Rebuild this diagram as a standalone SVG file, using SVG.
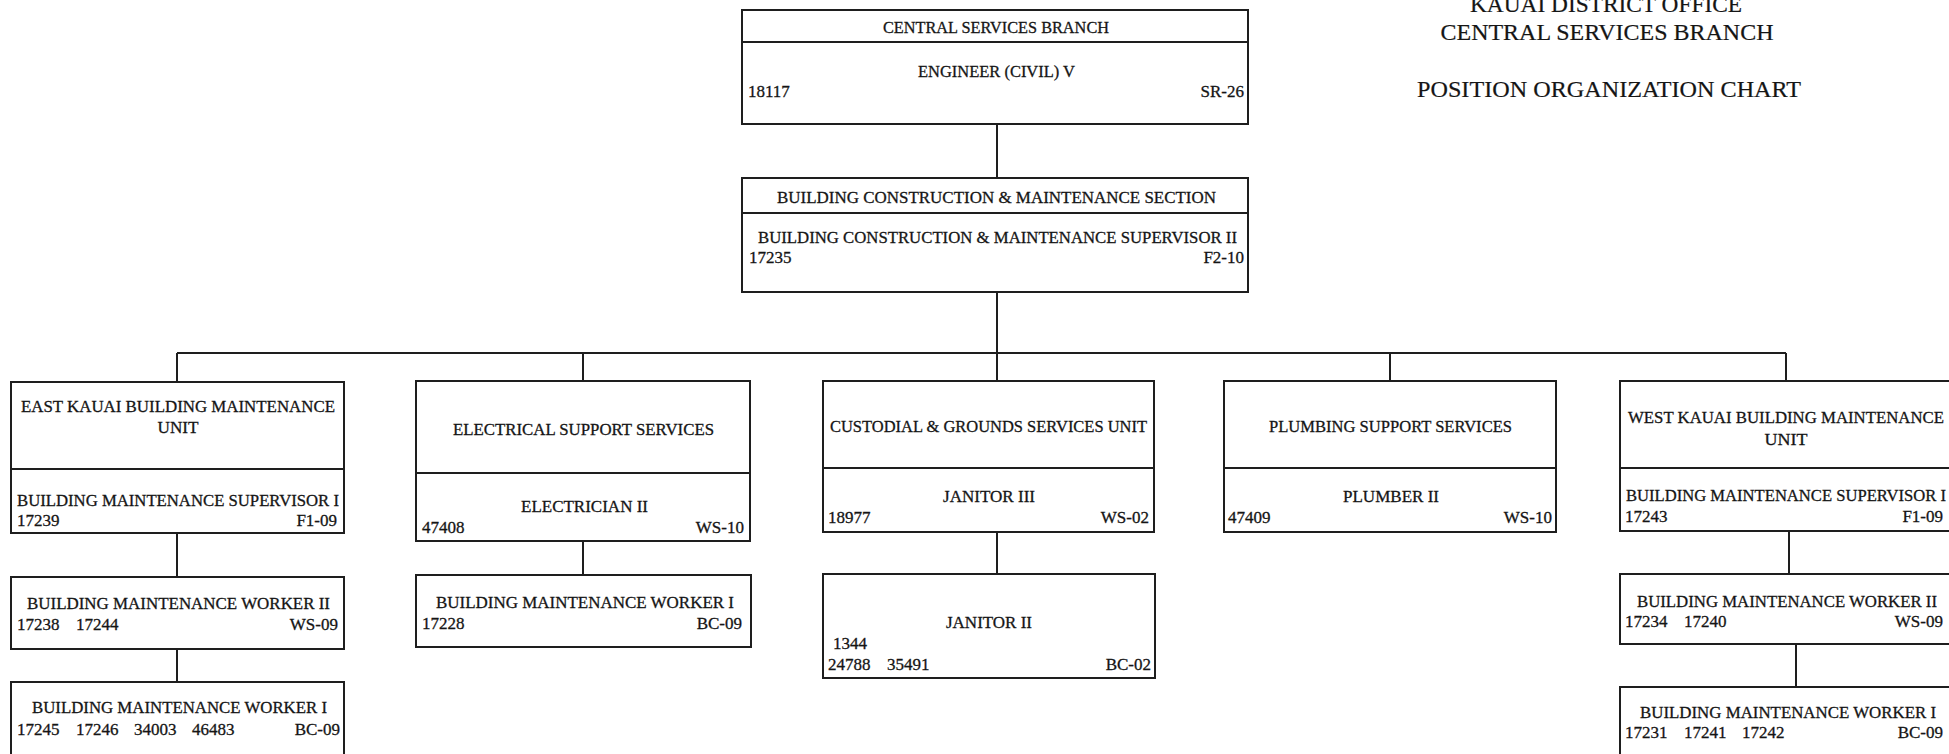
<svg xmlns="http://www.w3.org/2000/svg" width="1949" height="754" viewBox="0 0 1949 754">
<style>
.bx{fill:none;stroke:#1e1e1e;stroke-width:2}
.ln{fill:none;stroke:#1e1e1e;stroke-width:2}
.t{font-family:"Liberation Serif","Times New Roman",serif;font-size:17px;fill:#151515;stroke:#151515;stroke-width:0.3}
.c{text-anchor:middle}
.r{text-anchor:end}
.h{font-size:23.5px;stroke-width:0.2}
</style>
<rect x="0" y="0" width="1949" height="754" fill="#ffffff"/>
<g id="heading">
<text class="t h c" x="1606" y="12" textLength="272" lengthAdjust="spacingAndGlyphs">KAUAI DISTRICT OFFICE</text>
<text class="t h c" x="1607" y="40" textLength="333" lengthAdjust="spacingAndGlyphs">CENTRAL SERVICES BRANCH</text>
<text class="t h c" x="1609" y="97" textLength="384" lengthAdjust="spacingAndGlyphs">POSITION ORGANIZATION CHART</text>
</g>
<g id="connectors">
<path class="ln" d="M997,124V178"/>
<path class="ln" d="M997,292V381"/>
<path class="ln" d="M177,353H1786"/>
<path class="ln" d="M177,353V382"/>
<path class="ln" d="M583,353V381"/>
<path class="ln" d="M1390,353V381"/>
<path class="ln" d="M1786,353V381"/>
<path class="ln" d="M177,533V577"/>
<path class="ln" d="M177,649V682"/>
<path class="ln" d="M583,541V575"/>
<path class="ln" d="M997,532V574"/>
<path class="ln" d="M1789,531V574"/>
<path class="ln" d="M1796,644V687"/>
</g>
<g id="central-services-branch">
<rect class="bx" x="742" y="10" width="506" height="114"/>
<path class="ln" d="M742,42H1248"/>
<text class="t c" x="996" y="33" textLength="226" lengthAdjust="spacingAndGlyphs">CENTRAL SERVICES BRANCH</text>
<text class="t c" x="996.5" y="77" textLength="157" lengthAdjust="spacingAndGlyphs">ENGINEER (CIVIL) V</text>
<text class="t" x="748" y="97">18117</text>
<text class="t r" x="1244" y="97">SR-26</text>
</g>
<g id="bcm-section">
<rect class="bx" x="742" y="178" width="506" height="114"/>
<path class="ln" d="M742,213H1248"/>
<text class="t c" x="996.5" y="203" textLength="439" lengthAdjust="spacingAndGlyphs">BUILDING CONSTRUCTION &amp; MAINTENANCE  SECTION</text>
<text class="t c" x="997.5" y="243" textLength="479" lengthAdjust="spacingAndGlyphs">BUILDING CONSTRUCTION &amp; MAINTENANCE SUPERVISOR II</text>
<text class="t" x="749" y="263">17235</text>
<text class="t r" x="1244" y="263">F2-10</text>
</g>
<g id="east-kauai-unit">
<rect class="bx" x="11" y="382" width="333" height="151"/>
<path class="ln" d="M11,469H344"/>
<text class="t c" x="178" y="412" textLength="314" lengthAdjust="spacingAndGlyphs">EAST KAUAI BUILDING MAINTENANCE</text>
<text class="t c" x="178" y="433" textLength="41" lengthAdjust="spacingAndGlyphs">UNIT</text>
<text class="t c" x="178" y="506" textLength="322" lengthAdjust="spacingAndGlyphs">BUILDING MAINTENANCE SUPERVISOR I</text>
<text class="t" x="17" y="526">17239</text>
<text class="t r" x="337" y="526">F1-09</text>
</g>
<g id="east-worker-ii">
<rect class="bx" x="11" y="577" width="333" height="72"/>
<text class="t c" x="178.5" y="609" textLength="303" lengthAdjust="spacingAndGlyphs">BUILDING MAINTENANCE WORKER II</text>
<text class="t" x="17" y="630">17238</text>
<text class="t" x="76" y="630">17244</text>
<text class="t r" x="338" y="630">WS-09</text>
</g>
<g id="east-worker-i">
<rect class="bx" x="11" y="682" width="333" height="90"/>
<text class="t c" x="179.5" y="713" textLength="295" lengthAdjust="spacingAndGlyphs">BUILDING MAINTENANCE WORKER I</text>
<text class="t" x="17" y="735">17245</text>
<text class="t" x="76" y="735">17246</text>
<text class="t" x="134" y="735">34003</text>
<text class="t" x="192" y="735">46483</text>
<text class="t r" x="340" y="735">BC-09</text>
</g>
<g id="electrical-support">
<rect class="bx" x="416" y="381" width="334" height="160"/>
<path class="ln" d="M416,473H750"/>
<text class="t c" x="583.5" y="435" textLength="261" lengthAdjust="spacingAndGlyphs">ELECTRICAL SUPPORT SERVICES</text>
<text class="t c" x="584.5" y="512" textLength="127" lengthAdjust="spacingAndGlyphs">ELECTRICIAN II</text>
<text class="t" x="422" y="533">47408</text>
<text class="t r" x="744" y="533">WS-10</text>
</g>
<g id="electrical-worker-i">
<rect class="bx" x="416" y="575" width="335" height="72"/>
<text class="t c" x="585" y="608" textLength="298" lengthAdjust="spacingAndGlyphs">BUILDING MAINTENANCE WORKER I</text>
<text class="t" x="422" y="629">17228</text>
<text class="t r" x="742" y="629">BC-09</text>
</g>
<g id="custodial-grounds">
<rect class="bx" x="823" y="381" width="331" height="151"/>
<path class="ln" d="M823,468H1154"/>
<text class="t c" x="988.5" y="432" textLength="317" lengthAdjust="spacingAndGlyphs">CUSTODIAL &amp; GROUNDS SERVICES UNIT</text>
<text class="t c" x="989" y="502" textLength="92" lengthAdjust="spacingAndGlyphs">JANITOR III</text>
<text class="t" x="828" y="523">18977</text>
<text class="t r" x="1149" y="523">WS-02</text>
</g>
<g id="janitor-ii">
<rect class="bx" x="823" y="574" width="332" height="104"/>
<text class="t c" x="989" y="628" textLength="86" lengthAdjust="spacingAndGlyphs">JANITOR II</text>
<text class="t" x="833" y="649">1344</text>
<text class="t" x="828" y="670">24788</text>
<text class="t" x="887" y="670">35491</text>
<text class="t r" x="1151" y="670">BC-02</text>
</g>
<g id="plumbing-support">
<rect class="bx" x="1224" y="381" width="332" height="151"/>
<path class="ln" d="M1224,468H1556"/>
<text class="t c" x="1390.5" y="432" textLength="243" lengthAdjust="spacingAndGlyphs">PLUMBING SUPPORT SERVICES</text>
<text class="t c" x="1391" y="502" textLength="96" lengthAdjust="spacingAndGlyphs">PLUMBER II</text>
<text class="t" x="1228" y="523">47409</text>
<text class="t r" x="1552" y="523">WS-10</text>
</g>
<g id="west-kauai-unit">
<rect class="bx" x="1620" y="381" width="340" height="150"/>
<path class="ln" d="M1620,468H1960"/>
<text class="t c" x="1786" y="423" textLength="316" lengthAdjust="spacingAndGlyphs">WEST KAUAI BUILDING MAINTENANCE</text>
<text class="t c" x="1786" y="445" textLength="43" lengthAdjust="spacingAndGlyphs">UNIT</text>
<text class="t c" x="1786" y="501" textLength="320" lengthAdjust="spacingAndGlyphs">BUILDING MAINTENANCE SUPERVISOR I</text>
<text class="t" x="1625" y="522">17243</text>
<text class="t r" x="1943" y="522">F1-09</text>
</g>
<g id="west-worker-ii">
<rect class="bx" x="1620" y="574" width="340" height="70"/>
<text class="t c" x="1787" y="607" textLength="300" lengthAdjust="spacingAndGlyphs">BUILDING MAINTENANCE WORKER II</text>
<text class="t" x="1625" y="627">17234</text>
<text class="t" x="1684" y="627">17240</text>
<text class="t r" x="1943" y="627">WS-09</text>
</g>
<g id="west-worker-i">
<rect class="bx" x="1620" y="687" width="340" height="90"/>
<text class="t c" x="1788" y="718" textLength="296" lengthAdjust="spacingAndGlyphs">BUILDING MAINTENANCE WORKER I</text>
<text class="t" x="1625" y="738">17231</text>
<text class="t" x="1684" y="738">17241</text>
<text class="t" x="1742" y="738">17242</text>
<text class="t r" x="1943" y="738">BC-09</text>
</g>
</svg>
